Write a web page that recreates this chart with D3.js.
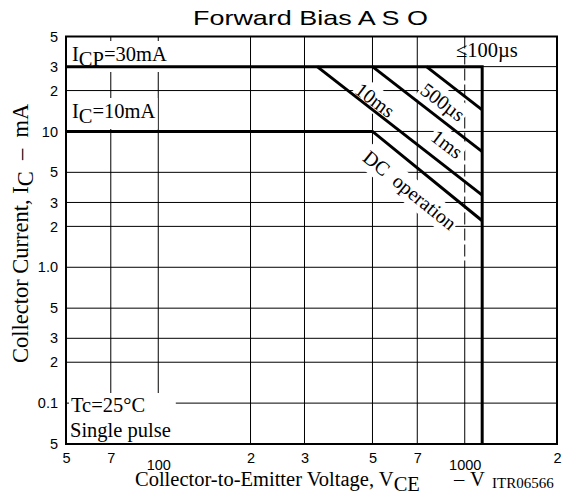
<!DOCTYPE html>
<html>
<head>
<meta charset="utf-8">
<script src="https://cdn.jsdelivr.net/npm/d3@7/dist/d3.min.js"></script>
<style>
  html, body { margin: 0; padding: 0; background: #fff; }
  svg { display: block; }
</style>
</head>
<body>
<svg id="chart" width="571" height="494"></svg>
<script>
// ---------- data ----------
const xTickValues = [50, 70, 100, 200, 300, 500, 700, 1000, 2000];
const xTickLabels = ["5", "7", "100", "2", "3", "5", "7", "1000", "2"];
const yTickValues = [50, 30, 20, 10, 5, 3, 2, 1, 0.5, 0.3, 0.2, 0.1, 0.05];
const yTickLabels = ["5", "3", "2", "10", "5", "3", "2", "1.0", "5", "3", "2", "0.1", "5"];

// limit curves [VCE (V), IC (mA)]
const icpLimit = [[50, 30], [1140, 30], [1140, 0.05]];
const dcLimit = [[50, 10], [500, 10], [1140, 2.2]];
const limit10ms = [[330, 30], [1140, 3.4]];
const limit1ms = [[500, 30], [1140, 7.1]];
const limit500us = [[750, 30], [1140, 14.4]];

// ---------- setup ----------
const SERIF = "'Liberation Serif','Times New Roman',Times,serif";
const SANS = "'Liberation Sans',Arial,Helvetica,sans-serif";
const L = 66, R = 557, T = 36.5, B = 444;

const svg = d3.select("#chart");
const x = d3.scaleLog().domain([50, 2000]).range([L, R]);
const y = d3.scaleLog().domain([0.05, 50]).range([B, T]);

const gridLayer = svg.append("g");
const boxLayer = svg.append("g");
const lineLayer = svg.append("g");
const textLayer = svg.append("g");

// ---------- grid ----------
const innerX = xTickValues.filter(v => v !== 50 && v !== 2000 && v !== 1000);
gridLayer.selectAll("line.vx").data(innerX).join("line")
  .attr("x1", d => x(d)).attr("x2", d => x(d))
  .attr("y1", T).attr("y2", B)
  .attr("stroke", "#000").attr("stroke-width", 1);
// 1000 V line: dashed in the upper region, solid below
gridLayer.append("line")
  .attr("x1", x(1000)).attr("x2", x(1000))
  .attr("y1", T).attr("y2", 262)
  .attr("stroke", "#000").attr("stroke-width", 1)
  .attr("stroke-dasharray", "12,4");
gridLayer.append("line")
  .attr("x1", x(1000)).attr("x2", x(1000))
  .attr("y1", 262).attr("y2", B)
  .attr("stroke", "#000").attr("stroke-width", 1);

const innerY = yTickValues.filter(v => v !== 50 && v !== 0.05);
gridLayer.selectAll("line.hy").data(innerY).join("line")
  .attr("x1", L).attr("x2", R)
  .attr("y1", d => y(d)).attr("y2", d => y(d))
  .attr("stroke", "#000").attr("stroke-width", 1);

// ---------- axes labels ----------
const yAxis = d3.axisLeft(y).tickValues(yTickValues)
  .tickFormat((d, i) => yTickLabels[i]).tickSize(0).tickPadding(8);
const gy = svg.append("g").attr("transform", `translate(${L},0)`).call(yAxis);
gy.select(".domain").remove();
gy.selectAll("text").attr("font-family", SANS).attr("font-size", "14.5px").attr("fill", "#000");

const xAxis = d3.axisBottom(x).tickValues(xTickValues)
  .tickFormat((d, i) => xTickLabels[i]).tickSize(0).tickPadding(9);
const gx = svg.append("g").attr("transform", `translate(0,${B})`).call(xAxis);
gx.select(".domain").remove();
gx.selectAll("text").attr("font-family", SANS).attr("font-size", "14.5px").attr("fill", "#000")
  .attr("y", (d, i) => (xTickLabels[i] === "100" || xTickLabels[i] === "1000") ? 15.5 : 8.5);

// frame
svg.append("rect").attr("x", L).attr("y", T).attr("width", R - L).attr("height", B - T)
  .attr("fill", "none").attr("stroke", "#000").attr("stroke-width", 2);

// ---------- limit lines ----------
const lineGen = d3.line().x(d => x(d[0])).y(d => y(d[1]));
[icpLimit, dcLimit, limit10ms, limit1ms, limit500us].forEach(data => {
  lineLayer.append("path").attr("d", lineGen(data))
    .attr("fill", "none").attr("stroke", "#000").attr("stroke-width", 3)
    .attr("stroke-linejoin", "miter").attr("stroke-linecap", "butt");
});

// ---------- annotation helpers ----------
function boxFor(textSel, transform, pad) {
  const bb = textSel.node().getBBox();
  const r = boxLayer.append("rect")
    .attr("x", bb.x - pad).attr("y", bb.y - pad)
    .attr("width", bb.width + 2 * pad).attr("height", bb.height + 2 * pad)
    .attr("fill", "#fff");
  if (transform) r.attr("transform", transform);
}

function subText(xp, yp, main, sub, rest, size) {
  const t = textLayer.append("text").attr("x", xp).attr("y", yp)
    .attr("font-family", SERIF).attr("font-size", size + "px").attr("fill", "#000");
  t.append("tspan").text(main);
  t.append("tspan").attr("dy", 5).text(sub);
  t.append("tspan").attr("dy", -5).text(rest);
  return t;
}

const t1 = subText(72, 61, "I", "CP", "=30mA", 20.5);
boxFor(t1, null, 2);
const t2 = subText(72, 118, "I", "C", "=10mA", 20.5);
boxFor(t2, null, 2);

textLayer.append("text").attr("x", 456).attr("y", 57)
  .attr("font-family", SERIF).attr("font-size", "20.5px").text("≤100µs");

// Tc box
const tcG = textLayer.append("g");
tcG.append("text").attr("x", 71).attr("y", 412)
  .attr("font-family", SERIF).attr("font-size", "20.5px").text("Tc=25°C");
tcG.append("text").attr("x", 70).attr("y", 437)
  .attr("font-family", SERIF).attr("font-size", "20.5px").text("Single pulse");
{
  const bb = tcG.node().getBBox();
  boxLayer.append("rect").attr("x", bb.x - 1).attr("y", bb.y - 1)
    .attr("width", bb.width + 6).attr("height", B - bb.y)
    .attr("fill", "#fff");
}

// rotated labels
function rotLabel(cx, cy, ang, str) {
  const tr = `translate(${cx},${cy}) rotate(${ang})`;
  const t = textLayer.append("text").attr("transform", tr)
    .attr("text-anchor", "middle").attr("dy", "0.35em")
    .attr("font-family", SERIF).attr("font-size", "20px")
    .attr("xml:space", "preserve").text(str);
  boxFor(t, tr, 1.5);
}
rotLabel(375, 100, 37, "10ms");
rotLabel(443, 102, 37, "500µs");
rotLabel(447, 144, 37, "1ms");
rotLabel(410, 190, 39, "DC  operation");

// ---------- titles ----------
svg.append("text").attr("x", 193).attr("y", 25)
  .attr("font-family", SANS).attr("font-size", "21px")
  .attr("textLength", 235).attr("lengthAdjust", "spacingAndGlyphs")
  .text("Forward Bias A S O");

// x label
const xl = svg.append("text").attr("x", 135).attr("y", 485.5)
  .attr("font-family", SERIF).attr("font-size", "20.5px").attr("fill", "#000");
xl.append("tspan").text("Collector-to-Emitter Voltage, V");
xl.append("tspan").attr("dy", 5).text("CE");
xl.append("tspan").attr("x", 454).attr("dy", -5).text("–");
xl.append("tspan").attr("x", 470).text("V");
svg.append("text").attr("x", 492).attr("y", 488)
  .attr("font-family", SERIF).attr("font-size", "15px").text("ITR06566");

// y label
const yl = svg.append("text").attr("transform", "translate(28,363) rotate(-90)")
  .attr("font-family", SERIF).attr("font-size", "22.5px").attr("fill", "#000")
  .attr("xml:space", "preserve");
yl.append("tspan").text("Collector Current, I");
yl.append("tspan").attr("dy", 5).text("C");
yl.append("tspan").attr("dy", -5).text("  –  mA");
</script>
</body>
</html>
